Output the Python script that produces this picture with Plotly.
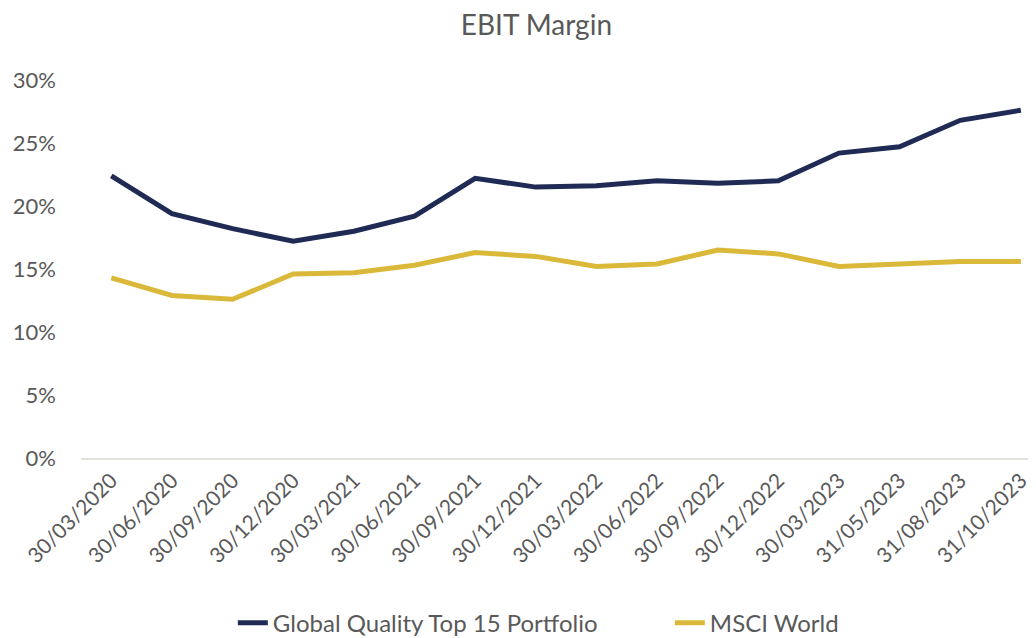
import plotly.graph_objects as go

dates = ["30/03/2020", "30/06/2020", "30/09/2020", "30/12/2020", "30/03/2021", "30/06/2021",
         "30/09/2021", "30/12/2021", "30/03/2022", "30/06/2022", "30/09/2022", "30/12/2022",
         "30/03/2023", "31/05/2023", "31/08/2023", "31/10/2023"]
portfolio = [22.4, 19.4, 18.2, 17.2, 18.0, 19.2, 22.2, 21.5, 21.6, 22.0, 21.8, 22.0,
             24.2, 24.7, 26.8, 27.6]
msci = [14.3, 12.9, 12.6, 14.6, 14.7, 15.3, 16.3, 16.0, 15.2, 15.4, 16.5, 16.2,
        15.2, 15.4, 15.6, 15.6]

FONT = "Lato"
GREY = "#595959"

fig = go.Figure()
fig.add_trace(go.Scatter(x=dates, y=portfolio, mode="lines", name="Global Quality Top 15 Portfolio",
                         line=dict(color="#1f2b55", width=5)))
fig.add_trace(go.Scatter(x=dates, y=msci, mode="lines", name="MSCI World",
                         line=dict(color="#dab93a", width=5)))

fig.update_layout(
    width=1028, height=630,
    margin=dict(l=73, r=0, t=72, b=180, autoexpand=False),
    paper_bgcolor="white", plot_bgcolor="white",
    font=dict(family=FONT, color=GREY, size=18),
    title=dict(text="EBIT Margin", x=0.514, xanchor="center", y=0.973, yanchor="middle",
               font=dict(size=28, color=GREY, family=FONT)),
    showlegend=True,
    legend=dict(orientation="h", x=0.159, xanchor="left", y=-0.437, yanchor="middle",
                font=dict(size=24, color=GREY, family=FONT),
                entrywidth=392, entrywidthmode="pixels"),
    xaxis=dict(type="category", range=[-0.5, 15.25], showgrid=False, showline=True,
               linecolor="#e3e1da", linewidth=2, ticks="", tickangle=-45,
               tickfont=dict(size=21, color=GREY), zeroline=False),
    yaxis=dict(range=[0, 30], dtick=5, ticksuffix="%", showgrid=False, zeroline=False,
               showline=False, ticks="", ticklabelstandoff=24,
               tickfont=dict(size=22, color=GREY)),
)

fig.write_html("out.html")
